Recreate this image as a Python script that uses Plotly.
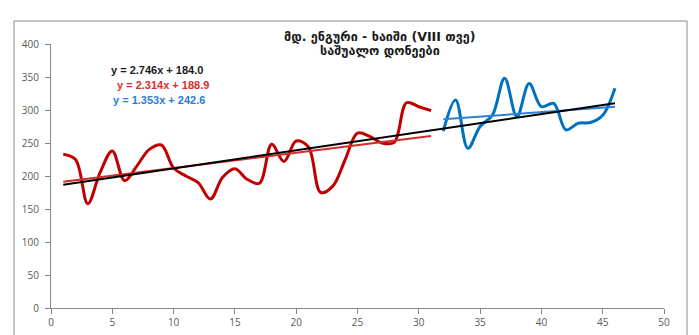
import plotly.graph_objects as go

# ---- data ----
red_x = list(range(1, 32))
red_y = [233, 225, 158, 205, 238, 193, 215, 240, 247, 212,
         200, 190, 165, 198, 211, 195, 189, 248, 222, 253,
         244, 175, 185, 225, 265, 260, 250, 251, 311, 305, 299]
blue_x = list(range(32, 47))
blue_y = [268, 315, 242, 275, 292, 348, 290, 340, 305, 310,
          270, 280, 281, 292, 333]

# trendline coefficients (slope, intercept) as shown on the chart
trend_all = (2.746, 184.0)
trend_red = (2.314, 188.9)
trend_blue = (1.353, 242.6)

title_lines = ["მდ. ენგური - ხაიში (VIII თვე)", "საშუალო დონეები"]
eq_texts = ["y = 2.746x + 184.0", "y = 2.314x + 188.9", "y = 1.353x + 242.6"]

x_ticks = [0, 5, 10, 15, 20, 25, 30, 35, 40, 45, 50]
y_ticks = [0, 50, 100, 150, 200, 250, 300, 350, 400]

RED = "#C00000"
BLUE = "#0070C0"

fig = go.Figure()

fig.add_trace(go.Scatter(x=red_x, y=red_y, mode="lines",
                         line=dict(color=RED, width=3, shape="spline", smoothing=1.0),
                         showlegend=False))
fig.add_trace(go.Scatter(x=blue_x, y=blue_y, mode="lines",
                         line=dict(color=BLUE, width=3, shape="spline", smoothing=1.0),
                         showlegend=False))

def tline(coef, x0, x1):
    a, b = coef
    return [x0, x1], [a * x0 + b, a * x1 + b]

all_x = red_x + blue_x
tx, ty = tline(trend_red, red_x[0], red_x[-1])
fig.add_trace(go.Scatter(x=tx, y=ty, mode="lines",
                         line=dict(color="#D42A2A", width=2), showlegend=False))
tx, ty = tline(trend_blue, blue_x[0], blue_x[-1])
fig.add_trace(go.Scatter(x=tx, y=ty, mode="lines",
                         line=dict(color="#2F80D0", width=2), showlegend=False))
tx, ty = tline(trend_all, all_x[0], all_x[-1])
fig.add_trace(go.Scatter(x=tx, y=ty, mode="lines",
                         line=dict(color="#000000", width=2), showlegend=False))

W, H = 699, 335
L, R, T, B = 51, 35, 44, 27
pw, ph = W - L - R, H - T - B

def px(xp):
    return (xp - L) / pw

def py(yp):
    return (H - B - yp) / ph

annotations = []
annotations.append(dict(x=px(380), y=py(36), xref="paper", yref="paper",
                        text="<b>" + title_lines[0] + "</b>", showarrow=False,
                        font=dict(family="DejaVu Sans", size=12.6, color="#1a1a1a"),
                        xanchor="center", yanchor="middle"))
annotations.append(dict(x=px(380), y=py(51), xref="paper", yref="paper",
                        text="<b>" + title_lines[1] + "</b>", showarrow=False,
                        font=dict(family="DejaVu Sans", size=12.6, color="#1a1a1a"),
                        xanchor="center", yanchor="middle"))
eq_pos = [(109, 70, "#1a1a1a"), (115, 85, "#E02B2B"), (111, 100, "#2E7BD6")]
for t, (xx, yy, c) in zip(eq_texts, eq_pos):
    annotations.append(dict(x=px(xx), y=py(yy), xref="paper", yref="paper",
                            text="<b>" + t + "</b>", showarrow=False,
                            font=dict(family="Liberation Sans", size=11, color=c),
                            xanchor="left", yanchor="middle"))

shapes = [dict(type="rect", xref="paper", yref="paper",
               x0=px(14), x1=px(687), y0=py(360), y1=py(21),
               line=dict(color="#8c8c8c", width=1), fillcolor="rgba(0,0,0,0)",
               layer="below")]

axis_common = dict(showgrid=False, zeroline=False, showline=True,
                   linecolor="#868686", linewidth=1, ticks="outside",
                   ticklen=5, tickcolor="#868686", automargin=False,
                   tickfont=dict(family="Open Sans", size=10, color="#595959"))

fig.update_layout(
    width=W, height=H,
    margin=dict(l=L, r=R, t=T, b=B, autoexpand=False),
    paper_bgcolor="white", plot_bgcolor="white",
    xaxis=dict(range=[0, 50], tickvals=x_ticks, **axis_common),
    yaxis=dict(range=[0, 400], tickvals=y_ticks, ticklabelstandoff=4, **axis_common),
    annotations=annotations,
    shapes=shapes,
    showlegend=False,
)

fig.write_html("out.html")
